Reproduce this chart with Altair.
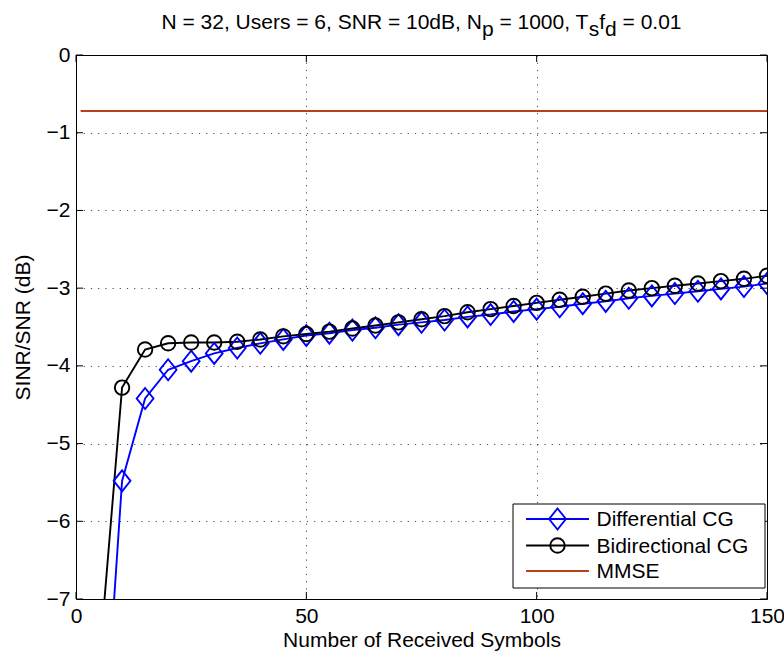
import altair as alt
import pandas as pd

# ---- data -------------------------------------------------------------
symbols = [5, 10, 15, 20, 25, 30, 35, 40, 45, 50, 55, 60, 65, 70, 75,
           80, 85, 90, 95, 100, 105, 110, 115, 120, 125, 130, 135, 140, 145, 150]

diff_cg = [-9.90, -5.48, -4.42, -4.05, -3.94, -3.84, -3.77, -3.71, -3.66, -3.61,
           -3.58, -3.54, -3.51, -3.47, -3.44, -3.41, -3.37, -3.34, -3.30, -3.27,
           -3.24, -3.20, -3.17, -3.13, -3.10, -3.07, -3.04, -3.01, -2.98, -2.94]

bidir_cg = [-7.85, -4.28, -3.79, -3.71, -3.70, -3.70, -3.69, -3.66, -3.62, -3.59,
            -3.56, -3.52, -3.48, -3.44, -3.40, -3.36, -3.31, -3.27, -3.23, -3.19,
            -3.15, -3.11, -3.07, -3.03, -3.00, -2.97, -2.94, -2.91, -2.88, -2.84]

mmse_x = [1, 150]
mmse_level = [-0.72, -0.72]

x_ticks = [0, 50, 100, 150]
y_ticks = [-7, -6, -5, -4, -3, -2, -1, 0]

series_names = ["Differential CG", "Bidirectional CG", "MMSE"]
series_colors = ["#0000ff", "#000000", "#b5421a"]

title_parts = [("N = 32, Users = 6, SNR = 10dB, N", 0), ("p", 1), (" = 1000, T", 0),
               ("s", 1), ("f", 0), ("d", 1), (" = 0.01", 0)]

# ---- layout -----------------------------------------------------------
W, H = 691, 544
FONT = "Liberation Sans"
FS = 21
LW = 1.9
DIAMOND = "M0,-1L0.8,0L0,1L-0.8,0Z"

curves = pd.DataFrame({
    "symbols": symbols * 2,
    "sinr": diff_cg + bidir_cg,
    "series": [series_names[0]] * len(symbols) + [series_names[1]] * len(symbols),
})
mmse = pd.DataFrame({"symbols": mmse_x, "sinr": mmse_level})

x_scale = alt.Scale(domain=[0, 150], nice=False, zero=False)
y_scale = alt.Scale(domain=[-7, 0], nice=False, zero=False)

x_enc = alt.X("symbols:Q", scale=x_scale,
              axis=alt.Axis(values=x_ticks, format="d", title="Number of Received Symbols",
                            labelPadding=6, titlePadding=3, labelFlush=False))
y_enc = alt.Y("sinr:Q", scale=y_scale,
              axis=alt.Axis(values=y_ticks, format="d", title="SINR/SNR (dB)",
                            labelPadding=6, titlePadding=13, labelFlush=False))

lines = alt.Chart(curves).mark_line(strokeWidth=LW, clip=True).encode(
    x=x_enc, y=y_enc,
    color=alt.Color("series:N", scale=alt.Scale(domain=series_names[:2],
                                                range=series_colors[:2]), legend=None),
    detail="series:N",
)

diamonds = alt.Chart(curves).transform_filter(
    alt.datum.series == series_names[0]
).mark_point(shape=DIAMOND, size=441, filled=False, strokeWidth=LW,
             color=series_colors[0], opacity=1, clip=True).encode(x="symbols:Q", y="sinr:Q")

circles = alt.Chart(curves).transform_filter(
    alt.datum.series == series_names[1]
).mark_point(shape="circle", size=210, filled=False, strokeWidth=LW,
             color=series_colors[1], opacity=1, clip=True).encode(x="symbols:Q", y="sinr:Q")

mmse_line = alt.Chart(mmse).mark_line(strokeWidth=LW, color=series_colors[2]).encode(
    x="symbols:Q", y="sinr:Q")

# inward ticks on all four sides of the box
xt = pd.DataFrame({"symbols": x_ticks})
yt = pd.DataFrame({"sinr": y_ticks})
TL = 7
ticks = [
    alt.Chart(xt).mark_rule(color="black").encode(x="symbols:Q", y=alt.value(H), y2=alt.value(H - TL)),
    alt.Chart(xt).mark_rule(color="black").encode(x="symbols:Q", y=alt.value(0), y2=alt.value(TL)),
    alt.Chart(yt).mark_rule(color="black").encode(y="sinr:Q", x=alt.value(0), x2=alt.value(TL)),
    alt.Chart(yt).mark_rule(color="black").encode(y="sinr:Q", x=alt.value(W), x2=alt.value(W - TL)),
]

# legend box
one = pd.DataFrame({"k": [0]})
LX0, LX1, LY0, LY1 = 437, 689, 449, 533
legend = [alt.Chart(one).mark_rect(fill="white", stroke="black", strokeWidth=1).encode(
    x=alt.value(LX0), x2=alt.value(LX1), y=alt.value(LY0), y2=alt.value(LY1))]
row_y = [464, 490.5, 516]
for i, (name, col) in enumerate(zip(series_names, series_colors)):
    legend.append(alt.Chart(one).mark_rule(color=col, strokeWidth=LW).encode(
        x=alt.value(450), x2=alt.value(513), y=alt.value(row_y[i])))
    legend.append(alt.Chart(one).mark_text(align="left", baseline="middle", font=FONT,
                                           fontSize=FS, color="black", text=name).encode(
        x=alt.value(520.5), y=alt.value(row_y[i] + 1)))
legend.append(alt.Chart(one).mark_point(shape=DIAMOND, size=441, filled=False, strokeWidth=LW,
                                        color=series_colors[0], opacity=1).encode(
    x=alt.value(481.5), y=alt.value(row_y[0])))
legend.append(alt.Chart(one).mark_point(shape="circle", size=210, filled=False, strokeWidth=LW,
                                        color=series_colors[1], opacity=1).encode(
    x=alt.value(481.5), y=alt.value(row_y[1])))

# title with subscripts, laid out piece by piece (Arial/Liberation advance widths)
ADV = {" ": 278, "=": 584, ",": 278, ".": 278, "0": 556, "1": 556, "2": 556, "3": 556,
       "6": 556, "N": 722, "U": 722, "s": 500, "e": 556, "r": 333, "S": 667, "R": 722,
       "d": 556, "B": 667, "p": 556, "T": 611, "f": 278}


def width(s):
    return sum(ADV.get(c, 556) for c in s) / 1000 * FS


pieces, cursor = [], 0.0
for text, sub in title_parts:
    lead = len(text) - len(text.lstrip())
    pieces.append((text.strip(), cursor + width(text[:lead]), sub))
    cursor += width(text)
start = W / 2 - cursor / 2
TITLE_BASE = -26
title = [alt.Chart(one).mark_text(align="left", baseline="alphabetic", font=FONT, fontSize=FS,
                                  color="black", text=t).encode(
    x=alt.value(start + px), y=alt.value(TITLE_BASE + (7 if sub else 0)))
    for t, px, sub in pieces]

chart = alt.layer(
    lines, mmse_line, diamonds, circles, *ticks, *legend, *title
).properties(
    width=W, height=H,
    padding={"left": 76, "top": 55, "right": 17, "bottom": 56},
    autosize=alt.AutoSizeParams(type="none"),
    background="white",
).configure_view(
    stroke="black", strokeWidth=1
).configure_axis(
    labelFont=FONT, titleFont=FONT, labelFontSize=FS, titleFontSize=FS,
    labelColor="black", titleColor="black", titleFontWeight="normal",
    grid=True, gridColor="#000000", gridOpacity=0.7, gridDash=[1.2, 6], gridWidth=1,
    ticks=False, domain=False,
)

chart.save("out.html", embed_options={"renderer": "svg", "actions": False})
